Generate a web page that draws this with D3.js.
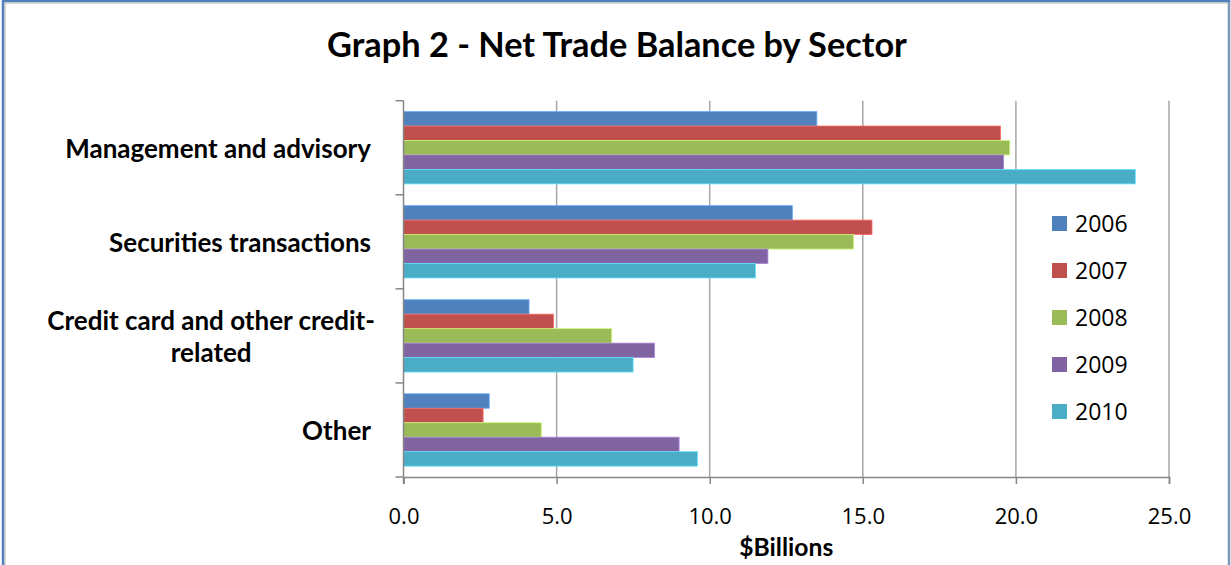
<!DOCTYPE html>
<html>
<head>
<meta charset="utf-8">
<script src="https://cdn.jsdelivr.net/npm/d3@7"></script>
<style>
  body { margin: 0; background: #fff; }
  svg { display: block; font-family: Lato, "Open Sans", sans-serif; }
</style>
</head>
<body>
<svg width="1231" height="565"></svg>
<script>
  // data ($ billions)
  const sectors = ["Management and advisory", "Securities transactions", "Credit card and other credit-|related", "Other"];
  const years = ["2006", "2007", "2008", "2009", "2010"];
  const colors = ["#4F81BD", "#C0504D", "#9BBB59", "#8064A2", "#4BACC6"];
  const v2006 = [13.5, 12.7, 4.1, 2.8];
  const v2007 = [19.5, 15.3, 4.9, 2.6];
  const v2008 = [19.8, 14.7, 6.8, 4.5];
  const v2009 = [19.6, 11.9, 8.2, 9.0];
  const v2010 = [23.9, 11.5, 7.5, 9.6];
  const xTicks = [0, 5, 10, 15, 20, 25];

  const series = [v2006, v2007, v2008, v2009, v2010];

  const svg = d3.select("svg");

  // scale a text's font size so it comes out about as wide as in the picture
  function fitFont(sel, target) {
    const size = +sel.attr("font-size");
    const w = sel.node().getComputedTextLength();
    const s = size * target / w;
    sel.attr("font-size", s);
    return s;
  }

  // outer frame
  svg.append("rect").attr("x", 3).attr("y", 1).attr("width", 1226).attr("height", 570)
    .attr("fill", "none").attr("stroke", "#4f81bd").attr("stroke-width", 2.5);
  svg.append("rect").attr("x", 5).attr("y", 3).attr("width", 1224).attr("height", 570)
    .attr("fill", "none").attr("stroke", "#b0b0b0").attr("stroke-width", 1);

  const plotLeft = 403.5, plotRight = 1169, plotTop = 100.7, plotBottom = 477;

  const x = d3.scaleLinear().domain([0, 25]).range([plotLeft, plotRight]);
  const y0 = d3.scaleBand().domain(sectors).range([plotTop, plotBottom]);
  const y1 = d3.scaleBand().domain(years).range([0, y0.bandwidth()]).paddingOuter(0.75);

  // title
  const title = svg.append("text")
    .attr("x", 617).attr("y", 57)
    .attr("text-anchor", "middle")
    .attr("font-weight", "bold")
    .attr("font-size", 30)
    .attr("fill", "#000")
    .text("Graph 2 - Net Trade Balance by Sector");
  fitFont(title, 580);

  // vertical gridlines
  svg.append("g").selectAll("line")
    .data(xTicks.slice(1))
    .join("line")
    .attr("x1", d => x(d)).attr("x2", d => x(d))
    .attr("y1", plotTop).attr("y2", plotBottom)
    .attr("stroke", "#a6a6a6").attr("stroke-width", 1.5);

  // bars
  const groups = svg.append("g").selectAll("g")
    .data(sectors)
    .join("g")
    .attr("transform", d => "translate(0," + y0(d) + ")");

  groups.selectAll("rect")
    .data((d, i) => years.map((yr, j) => ({ year: yr, value: series[j][i], color: colors[j] })))
    .join("rect")
    .attr("x", x(0))
    .attr("y", d => y1(d.year))
    .attr("width", d => x(d.value) - x(0))
    .attr("height", y1.bandwidth())
    .attr("fill", d => d.color)
    .attr("stroke", d => d3.color(d.color).brighter(0.8))
    .attr("stroke-width", 0.8);

  // x axis
  const xAxis = svg.append("g")
    .attr("transform", "translate(0," + plotBottom + ")")
    .call(d3.axisBottom(x).tickValues(xTicks).tickSize(7).tickPadding(33).tickFormat(d3.format(".1f")));
  xAxis.select(".domain").attr("stroke", "#868686").attr("stroke-width", 1.5);
  xAxis.selectAll(".tick line").attr("stroke", "#868686").attr("stroke-width", 1.5);
  xAxis.selectAll(".tick text")
    .attr("font-family", "Open Sans, sans-serif")
    .attr("font-size", 22).attr("fill", "#000")
    .attr("dy", "0.32em");

  // y axis line + category ticks
  const yAxis = svg.append("g");
  yAxis.append("line")
    .attr("x1", plotLeft).attr("x2", plotLeft).attr("y1", plotTop).attr("y2", plotBottom + 7)
    .attr("stroke", "#868686").attr("stroke-width", 1.5);
  yAxis.selectAll("line.tk")
    .data(sectors.concat(["end"]))
    .join("line")
    .attr("class", "tk")
    .attr("x1", plotLeft - 8).attr("x2", plotLeft)
    .attr("y1", (d, i) => plotTop + i * y0.step())
    .attr("y2", (d, i) => plotTop + i * y0.step())
    .attr("stroke", "#868686").attr("stroke-width", 1.5);

  // category label size: "Management and advisory" is ~310px wide in the picture
  const probe = svg.append("text").attr("font-weight", "bold").attr("font-size", 21).text(sectors[0]);
  const labelSize = fitFont(probe, 306);
  probe.remove();

  // category labels: block right-aligned, lines centred in the block
  sectors.forEach(s => {
    const lines = s.split("|");
    const labelRight = lines.length > 1 ? 375 : 371;
    const cy = y0(s) + y0.bandwidth() / 2;
    const lh = 32;
    const t = svg.append("text")
      .attr("font-weight", "bold").attr("font-size", labelSize)
      .attr("text-anchor", "middle").attr("fill", "#000");
    lines.forEach((ln, k) => {
      t.append("tspan")
        .attr("y", cy + 1 + (k - (lines.length - 1) / 2) * lh)
        .attr("dy", "0.35em")
        .text(ln);
    });
    let w = 0;
    t.selectAll("tspan").each(function() { w = Math.max(w, this.getComputedTextLength()); });
    t.selectAll("tspan").attr("x", labelRight - w / 2);
  });

  // x axis title
  const xTitle = svg.append("text")
    .attr("x", (plotLeft + plotRight) / 2).attr("y", 556)
    .attr("text-anchor", "middle")
    .attr("font-weight", "bold").attr("font-size", 20)
    .text("$Billions");
  fitFont(xTitle, 94);

  // legend
  const legend = svg.append("g").selectAll("g")
    .data(years)
    .join("g")
    .attr("transform", (d, i) => "translate(1052," + (223.5 + i * 47) + ")");
  legend.append("rect")
    .attr("x", 0).attr("y", -7.5).attr("width", 15).attr("height", 15)
    .attr("fill", (d, i) => colors[i]);
  legend.append("text")
    .attr("x", 23).attr("dy", "0.36em")
    .attr("font-family", "Open Sans, sans-serif")
    .attr("font-size", 23).attr("fill", "#000")
    .text(d => d);
</script>
</body>
</html>
